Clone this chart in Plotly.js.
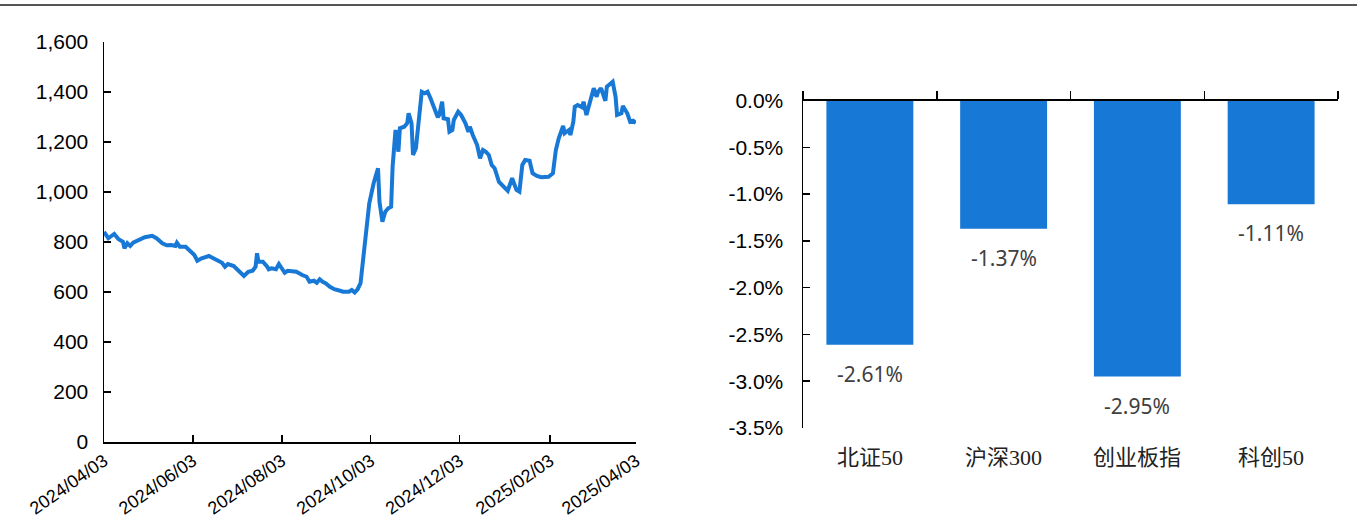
<!DOCTYPE html>
<html>
<head>
<meta charset="utf-8">
<script src="https://cdn.plot.ly/plotly-3.0.1.min.js"></script>
<style>html,body{margin:0;padding:0;background:#fff;}#chart{width:1357px;height:525px;}</style>
</head>
<body>
<div id="chart"></div>
<script>
// Left chart: index level over time
const lineDates = [
 '2024-04-03','2024-04-06','2024-04-10','2024-04-13','2024-04-16','2024-04-17','2024-04-19','2024-04-21','2024-04-23','2024-04-27',
 '2024-05-01','2024-05-06','2024-05-09','2024-05-13','2024-05-16','2024-05-19','2024-05-22','2024-05-23','2024-05-25','2024-05-29',
 '2024-06-01','2024-06-04','2024-06-06','2024-06-09','2024-06-14','2024-06-17','2024-06-20','2024-06-23','2024-06-25','2024-06-27',
 '2024-07-01','2024-07-04','2024-07-08','2024-07-11','2024-07-14','2024-07-16','2024-07-17','2024-07-18','2024-07-21','2024-07-24',
 '2024-07-25','2024-07-27','2024-07-30','2024-08-01','2024-08-03','2024-08-05','2024-08-07','2024-08-11','2024-08-13','2024-08-17',
 '2024-08-20','2024-08-22','2024-08-25','2024-08-27','2024-08-29','2024-08-31','2024-09-02','2024-09-05','2024-09-08','2024-09-12',
 '2024-09-14','2024-09-18','2024-09-20','2024-09-22','2024-09-24','2024-09-26','2024-09-28','2024-09-30','2024-10-02','2024-10-05',
 '2024-10-08','2024-10-09','2024-10-11','2024-10-13','2024-10-15','2024-10-17','2024-10-18','2024-10-20','2024-10-22','2024-10-23',
 '2024-10-26','2024-10-28','2024-10-29','2024-10-31','2024-11-01','2024-11-03','2024-11-05','2024-11-07','2024-11-09','2024-11-11',
 '2024-11-13','2024-11-15','2024-11-18','2024-11-19','2024-11-21','2024-11-22','2024-11-25','2024-11-26','2024-11-28','2024-11-29',
 '2024-12-02','2024-12-04','2024-12-07','2024-12-09','2024-12-10','2024-12-12','2024-12-15','2024-12-17','2024-12-19','2024-12-21',
 '2024-12-23','2024-12-25','2024-12-27','2024-12-30','2025-01-02','2025-01-05','2025-01-08','2025-01-11','2025-01-13','2025-01-15',
 '2025-01-17','2025-01-20','2025-01-22','2025-01-25','2025-01-28','2025-02-02','2025-02-05','2025-02-07','2025-02-09','2025-02-12',
 '2025-02-13','2025-02-16','2025-02-17','2025-02-19','2025-02-20','2025-02-22','2025-02-25','2025-02-26','2025-02-28','2025-03-02',
 '2025-03-05','2025-03-07','2025-03-08','2025-03-10','2025-03-13','2025-03-14','2025-03-18','2025-03-20','2025-03-21','2025-03-24',
 '2025-03-25','2025-03-28','2025-03-30','2025-04-01','2025-04-03'
];
const lineValues = [
 840,815,832,811,801,775,795,784,797,808,
 819,825,815,795,787,788,784,797,781,781,
 765,748,725,735,744,735,728,717,701,712,
 704,688,664,681,685,701,755,721,721,701,
 691,695,691,712,691,677,685,681,681,668,
 661,641,645,637,651,641,635,621,611,605,
 601,601,608,598,611,635,740,861,955,1035,
 1095,961,881,921,935,941,1101,1248,1161,1255,
 1261,1275,1315,1275,1148,1175,1288,1401,1395,1401,
 1375,1341,1299,1308,1361,1295,1291,1241,1248,1288,
 1321,1308,1275,1241,1261,1228,1188,1135,1168,1161,
 1148,1108,1095,1040,1021,1005,1055,1008,1001,1108,
 1128,1125,1075,1064,1059,1061,1075,1168,1215,1264,
 1235,1248,1228,1281,1341,1348,1339,1361,1308,1348,
 1415,1381,1401,1415,1365,1421,1441,1381,1308,1315,
 1344,1315,1281,1285,1277
];
const lineTickVals = ['2024-04-03','2024-06-03','2024-08-03','2024-10-03','2024-12-03','2025-02-03','2025-04-03'];
const lineTickText = ['2024/04/03','2024/06/03','2024/08/03','2024/10/03','2024/12/03','2025/02/03','2025/04/03'];
const lineYTicks = [0,200,400,600,800,1000,1200,1400,1600];

// Right chart: change of indices (%)
const barCategories = ['北证50','沪深300','创业板指','科创50'];
const barValues = [-2.61,-1.37,-2.95,-1.11];
const barYTicks = [0,-0.5,-1.0,-1.5,-2.0,-2.5,-3.0,-3.5];

const blue = '#1878D6';
const px = v => v/1357;
const py = v => (525 - v)/525;

const traces = [
  {
    type:'scatter', mode:'lines', x: lineDates, y: lineValues,
    line:{color: blue, width:4}, xaxis:'x', yaxis:'y', hoverinfo:'skip'
  },
  {
    type:'bar', x: barCategories.map((c,i)=>i), y: barValues,
    marker:{color: blue}, width:0.65, xaxis:'x2', yaxis:'y2', hoverinfo:'skip'
  }
];

const annotations = [];
barValues.forEach((v,i)=>{
  annotations.push({
    xref:'x2', yref:'y2', x:i, y:v, text: v.toFixed(2)+'%', showarrow:false,
    yanchor:'middle', yshift:-29,
    font:{family:'Liberation Sans Narrow, Noto Sans, sans-serif', size:21, color:'#404040'}
  });
  annotations.push({
    xref:'x2', yref:'paper', x:i, y:py(457), text: barCategories[i], showarrow:false,
    yanchor:'middle',
    font:{family:'Liberation Serif, Noto Sans CJK SC, serif', size:22, color:'#222'}
  });
});

const axisFont = {family:'Liberation Sans, Arial, sans-serif', size:21, color:'#000'};

const layout = {
  width:1357, height:525,
  margin:{l:0,r:0,t:0,b:0},
  paper_bgcolor:'#fff', plot_bgcolor:'rgba(0,0,0,0)',
  showlegend:false,
  xaxis:{
    domain:[px(104), px(636)], anchor:'y', type:'date',
    range:['2024-04-03','2025-04-03'],
    tickvals: lineTickVals, ticktext: lineTickText, tickangle:-35,
    tickfont:{family:'Liberation Sans, Arial, sans-serif', size:18, color:'#000'},
    showline:true, linecolor:'#000', linewidth:1.5,
    ticks:'inside', ticklen:7, tickcolor:'#000', tickwidth:1.5,
    showgrid:false, zeroline:false
  },
  yaxis:{
    domain:[py(442), py(42)], anchor:'x', range:[0,1600],
    tickvals: lineYTicks, tickformat:',d', tickfont: axisFont,
    showline:true, linecolor:'#000', linewidth:1.5,
    ticks:'inside', ticklen:7, tickcolor:'#000', tickwidth:1.5,
    showgrid:false, zeroline:false, ticklabelstandoff:10
  },
  xaxis2:{
    domain:[px(803), px(1338)], anchor:'y2', side:'top', type:'linear',
    range:[-0.5, 3.5], tickvals:[-0.5,0.5,1.5,2.5,3.5], showticklabels:false,
    showline:true, linecolor:'#000', linewidth:1.5,
    ticks:'outside', ticklen:8, tickcolor:'#000', tickwidth:1.5,
    showgrid:false, zeroline:false
  },
  yaxis2:{
    domain:[py(428), py(100.5)], anchor:'x2', range:[-3.5,0],
    tickvals: barYTicks, ticktext: barYTicks.map(t=>t.toFixed(1)+'%'), tickfont: axisFont,
    showline:true, linecolor:'#000', linewidth:1.5,
    ticks:'inside', ticklen:7, tickcolor:'#000', tickwidth:1.5,
    showgrid:false, zeroline:false, ticklabelstandoff:14
  },
  annotations: annotations,
  shapes:[
    {type:'line', xref:'paper', yref:'paper', x0:0, x1:1, y0:py(5), y1:py(5),
     line:{color:'#555', width:2}}
  ]
};

Plotly.newPlot('chart', traces, layout, {staticPlot:true, displayModeBar:false});
</script>
</body>
</html>
